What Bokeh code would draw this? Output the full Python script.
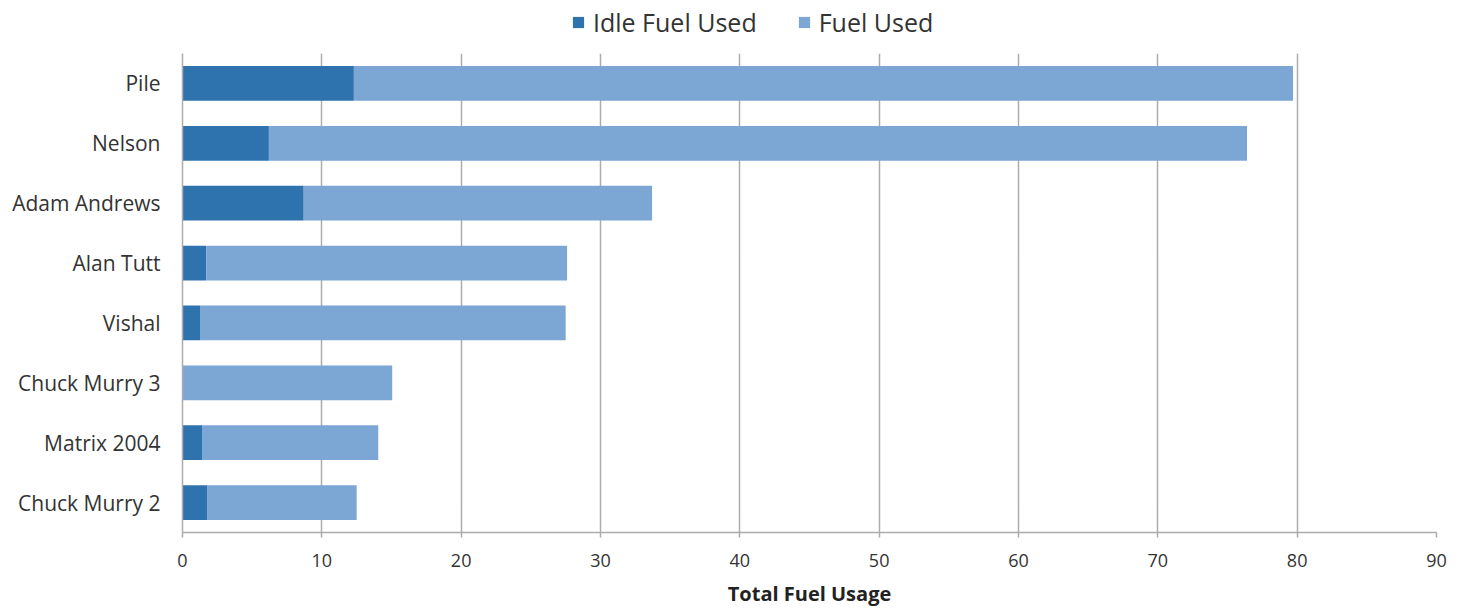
import numpy as np
from bokeh.plotting import figure
from bokeh.layouts import column
from bokeh.models import ColumnDataSource, FactorRange, Range1d, Legend, LegendItem, FixedTicker
from bokeh.embed import file_html
from bokeh.resources import INLINE

# Data (bottom to top)
drivers = ["Chuck Murry 2", "Matrix 2004", "Chuck Murry 3", "Vishal",
           "Alan Tutt", "Adam Andrews", "Nelson", "Pile"]
idle_fuel = [1.8, 1.4, 0.0, 1.3, 1.7, 8.7, 6.2, 12.3]
fuel_used = [10.7, 12.65, 15.05, 26.2, 25.9, 25.0, 70.2, 67.4]
x_ticks = [0, 10, 20, 30, 40, 50, 60, 70, 80, 90]
series_names = ["Idle Fuel Used", "Fuel Used"]

IDLE_COLOR = "#2F73AE"
FUEL_COLOR = "#7CA6D4"
TEXT = "#333333"
GRID = "#acacac"
FONT = "Open Sans"

src = ColumnDataSource(dict(driver=drivers, idle=idle_fuel, fuel=fuel_used))

# ---- legend strip (top) ----
leg = figure(width=1463, height=53, output_backend="svg", toolbar_location=None,
             x_axis_type=None, y_axis_type=None,
             x_range=Range1d(0, 1), y_range=Range1d(0, 1),
             min_border_left=0, min_border_right=0, min_border_top=0, min_border_bottom=0)
leg.outline_line_color = None
leg.xgrid.grid_line_color = None
leg.ygrid.grid_line_color = None
# key-only renderers: a single undefined (NaN) entry, so nothing is drawn in the strip
key_src = ColumnDataSource(dict(y=np.array([np.nan]), left=np.array([np.nan]),
                                right=np.array([np.nan])))
l_idle = leg.hbar(y="y", left="left", right="right", height=0.5, source=key_src,
                  color=IDLE_COLOR, line_color=None)
l_fuel = leg.hbar(y="y", left="left", right="right", height=0.5, source=key_src,
                  color=FUEL_COLOR, line_color=None)
legend = Legend(items=[LegendItem(label=series_names[0], renderers=[l_idle]),
                       LegendItem(label=series_names[1], renderers=[l_fuel])],
                orientation="horizontal", location=(389, 14),
                label_text_font=FONT, label_text_font_size="25px",
                label_text_color=TEXT, glyph_width=14, glyph_height=14,
                label_standoff=8, spacing=40, padding=0, margin=0,
                border_line_color=None, background_fill_alpha=0)
leg.add_layout(legend, "center")

# ---- main chart ----
p = figure(width=1463, height=557, output_backend="svg", toolbar_location=None,
           y_range=FactorRange(*drivers, range_padding=0),
           x_range=Range1d(0, 90),
           min_border_left=182, min_border_right=27,
           min_border_top=0, min_border_bottom=78)

p.hbar_stack(["idle", "fuel"], y="driver", height=0.58, source=src,
             color=[IDLE_COLOR, FUEL_COLOR], line_color=None)

p.outline_line_color = None
p.background_fill_color = "white"

p.xaxis.ticker = FixedTicker(ticks=x_ticks)
p.xaxis.axis_label = "Total Fuel Usage"
p.xaxis.axis_label_text_font = FONT
p.xaxis.axis_label_text_font_style = "bold"
p.xaxis.axis_label_text_font_size = "20px"
p.xaxis.axis_label_text_color = "#222222"
p.xaxis.axis_label_standoff = 10
p.xaxis.major_label_text_font = FONT
p.xaxis.major_label_text_font_size = "18px"
p.xaxis.major_label_text_color = TEXT
p.xaxis.major_label_standoff = 16
p.xaxis.axis_line_color = GRID
p.xaxis.axis_line_width = 1.5
p.xaxis.major_tick_line_color = GRID
p.xaxis.major_tick_line_width = 1.5
p.xaxis.major_tick_out = 5
p.xaxis.major_tick_in = 0
p.xaxis.minor_tick_line_color = None

p.yaxis.major_label_text_font = FONT
p.yaxis.major_label_text_font_size = "21px"
p.yaxis.major_label_text_color = TEXT
p.yaxis.major_label_standoff = 16
p.yaxis.axis_line_color = GRID
p.yaxis.axis_line_width = 1.5
p.yaxis.major_tick_line_color = None
p.yaxis.minor_tick_line_color = None

p.xgrid.grid_line_color = GRID
p.xgrid.grid_line_width = 1.5
p.ygrid.grid_line_color = None

layout = column(leg, p, spacing=0)
open("out.html", "w").write(file_html(layout, INLINE))
